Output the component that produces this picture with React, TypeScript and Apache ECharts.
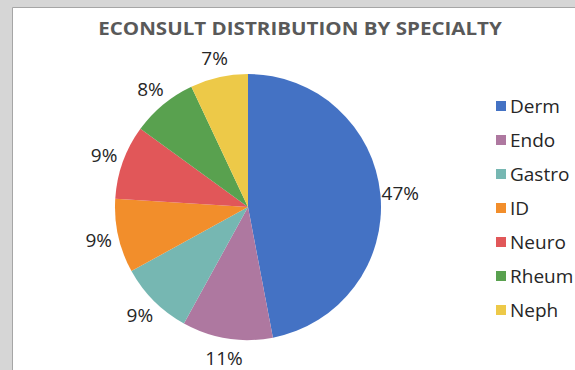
import React, { useEffect, useRef } from "react";
import * as echarts from "echarts";

const categories = ["Derm", "Endo", "Gastro", "ID", "Neuro", "Rheum", "Neph"];
const shares = [47, 11, 9, 9, 9, 8, 7];
const colors = ["#4472C4", "#AE78A0", "#76B7B2", "#F28E2B", "#E15759", "#59A14F", "#EDC948"];
const titleText = "ECONSULT DISTRIBUTION BY SPECIALTY";

export default function App() {
  const ref = useRef<HTMLDivElement>(null);
  useEffect(() => {
    const chart = echarts.init(ref.current!, null, { renderer: "svg" });
    chart.setOption({
      animation: false,
      backgroundColor: "#d6d6d6",
      graphic: [
        {
          type: "rect",
          z: -10,
          shape: { x: 12.5, y: 7.5, width: 620, height: 420 },
          style: { fill: "#ffffff", stroke: "#a6a6a6", lineWidth: 1 },
        },
        {
          type: "text",
          x: 300,
          y: 29,
          scaleX: 1.21,
          style: {
            text: titleText,
            fontFamily: "Open Sans",
            fontWeight: "bold",
            fontSize: 17,
            fill: "#595959",
            align: "center",
            verticalAlign: "middle",
          },
        },
      ],
      legend: {
        orient: "vertical",
        left: 491,
        top: 88,
        icon: "rect",
        itemWidth: 10,
        itemHeight: 10,
        itemGap: 8,
        textStyle: { fontFamily: "Open Sans", fontSize: 19, lineHeight: 26, color: "#262626", padding: [0, 0, 0, -1] },
        data: categories,
      },
      series: [
        {
          type: "pie",
          center: [248, 207],
          radius: 133,
          startAngle: 90,
          clockwise: true,
          data: categories.map((c, i) => ({ name: c, value: shares[i], itemStyle: { color: colors[i] } })),
          label: { show: false },
          labelLine: { show: false },
          emphasis: { disabled: true },
        },
        {
          type: "pie",
          center: [248, 207],
          radius: [136, 164],
          startAngle: 90,
          clockwise: true,
          silent: true,
          data: categories.map((c, i) => ({ name: c, value: shares[i], itemStyle: { color: "transparent" } })),
          label: {
            show: true,
            position: "inside",
            formatter: "{c}%",
            fontFamily: "Open Sans",
            fontSize: 19,
            lineHeight: 20,
            color: "#262626",
          },
          labelLine: { show: false },
          emphasis: { disabled: true },
        },
      ],
    });
    return () => chart.dispose();
  }, []);
  return <div ref={ref} style={{ position: "fixed", left: 0, top: 0, width: 575, height: 370 }} />;
}
